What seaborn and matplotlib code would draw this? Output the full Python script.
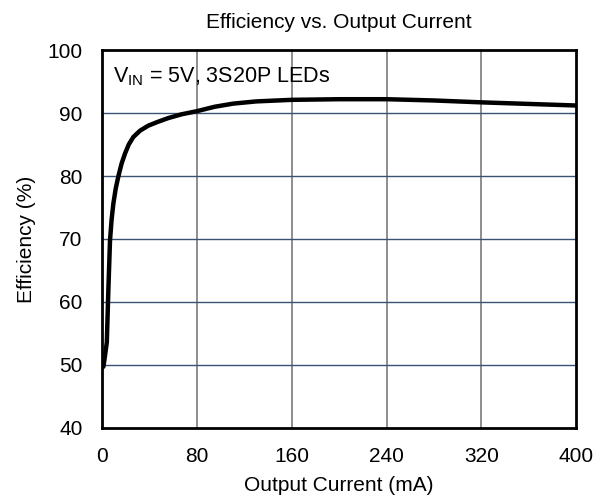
import matplotlib
matplotlib.use("Agg")
import matplotlib.pyplot as plt
import seaborn as sns
import pandas as pd

current_ma = [1.1, 2.5, 4.0, 5.3, 6.7, 8.0, 9.5, 11.5, 13.8, 16.5, 19.4, 22.5, 26.4, 32, 39,
              47, 55.8, 67, 80, 95, 110.6, 130, 160, 200, 240, 280, 320, 360, 400]
efficiency = [49.7, 51.5, 53.6, 61.9, 69.8, 73.0, 75.6, 78.0, 80.0, 82.0, 83.6, 85.0, 86.2, 87.2, 88.0,
              88.6, 89.2, 89.8, 90.3, 91.0, 91.5, 91.85, 92.1, 92.2, 92.2, 92.0, 91.7, 91.45, 91.2]
x_ticks = [0, 80, 160, 240, 320, 400]
y_ticks = [40, 50, 60, 70, 80, 90, 100]

sns.set_style("white")
plt.rcParams['font.family'] = ['Liberation Sans', 'DejaVu Sans']
plt.rcParams['mathtext.fontset'] = 'custom'
plt.rcParams['mathtext.rm'] = 'Liberation Sans'
plt.rcParams['text.color'] = 'black'
plt.rcParams['axes.labelcolor'] = 'black'

df = pd.DataFrame({"Output Current (mA)": current_ma, "Efficiency (%)": efficiency})

fig = plt.figure(figsize=(6.04, 5.01), dpi=100)
ax = fig.add_axes([0.169, 0.146, 0.785, 0.754])

ax.set_xlim(0, 400)
ax.set_ylim(40, 100)
ax.set_xticks(x_ticks)
ax.set_yticks(y_ticks)
for v in x_ticks[1:-1]:
    ax.axvline(v, color="#7a7a7a", lw=1.2, zorder=1)
for v in y_ticks[1:-1]:
    ax.axhline(v, color="#3a5275", lw=1.0, zorder=1)

sns.lineplot(data=df, x="Output Current (mA)", y="Efficiency (%)", ax=ax,
             color="black", lw=3.2, zorder=3)

for s in ax.spines.values():
    s.set_color("black")
    s.set_linewidth(2)

ax.tick_params(axis="x", labelsize=15, length=0, pad=14, colors="black")
ax.tick_params(axis="y", labelsize=15, length=0, pad=14, colors="black")
ax.set_xlabel("Output Current (mA)", fontsize=15, labelpad=7, color="black")
ax.set_ylabel("Efficiency (%)", fontsize=15, labelpad=8, color="black")
ax.set_title("Efficiency vs. Output Current", fontsize=15, pad=16, color="black")
ax.text(0.022, 0.915, r"V$_{\mathregular{IN}}$ = 5V, 3S20P LEDs", transform=ax.transAxes,
        fontsize=15.5, va="baseline", ha="left", color="black")

fig.savefig("out.png", dpi=100)
